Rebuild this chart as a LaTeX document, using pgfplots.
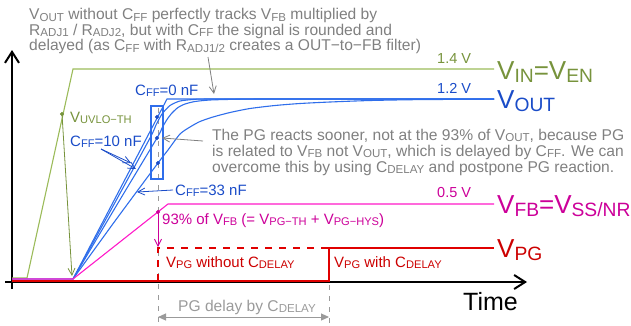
\documentclass[border=0pt]{standalone}
\usepackage{fontspec}
\setmainfont{Liberation Sans}
\usepackage{graphicx}
\usepackage{pgfplots}
\pgfplotsset{compat=1.18}
\usetikzlibrary{arrows.meta}

\definecolor{txtgray}{HTML}{808080}
\definecolor{lgray}{HTML}{9A9A9A}
\definecolor{gline}{HTML}{9BBB59}
\definecolor{gtext}{HTML}{77933C}
\definecolor{bline}{HTML}{2F6EEB}
\definecolor{btext}{HTML}{1A4CC8}
\definecolor{mline}{HTML}{FF19C8}
\definecolor{mtext}{HTML}{CC0099}
\definecolor{rline}{HTML}{E00000}
\definecolor{rtext}{HTML}{CC0000}

% subscript as in the drawing: smaller and a little lowered
\newcommand{\sub}[1]{\raisebox{-0.12em}{\scalebox{0.74}{#1}}}

\tikzset{
  txt/.style={inner sep=0pt, anchor=base west, font=\fontsize{15.6}{17}\selectfont},
  big/.style={inner sep=0pt, anchor=base west, font=\fontsize{26}{28}\selectfont},
  barb/.style={-{Straight Barb[length=7pt,width=7pt]}},
}

\begin{document}
\begin{tikzpicture}
\begin{axis}[
    scale only axis,
    width=631pt, height=325pt,
    xmin=0, xmax=631, ymin=0, ymax=325,
    y dir=reverse,
    hide axis,
    clip=false,
]
% axes
\draw[line width=2pt, -{Straight Barb[length=11pt,width=14pt]}] (12,289) -- (12,50);
\draw[line width=2pt, -{Straight Barb[length=11pt,width=14pt]}] (5,282) -- (527,282);
\node[inner sep=0pt, anchor=base west, font=\fontsize{25}{27}\selectfont] at (463,310) {Time};

% guide lines
\draw[lgray, line width=0.8pt, dash pattern=on 5pt off 6pt] (158,108) -- (158,325);
\draw[lgray, line width=0.8pt, dash pattern=on 5pt off 6pt] (329,285) -- (329,325);

% V_PG
\addplot[rline, line width=1.1pt] coordinates {(12,281) (329,281) (329,248) (494,248)};
\addplot[rline, line width=1.1pt, dash pattern=on 7pt off 7pt] coordinates {(158,281) (158,248) (329,248)};

% V_IN = V_EN
\addplot[gline, line width=1.1pt] coordinates {(12,278) (27,278) (73,69) (494,69)};
\addplot[only marks, mark=*, mark size=1.8pt, gtext] coordinates {(62,114)};
\draw[gtext, line width=0.8pt, barb] (62,114) -- (72,276);

% V_OUT curves
\addplot[bline, line width=1.1pt] coordinates {(12,279) (73,279) (167,99) (494,99)};
\addplot[bline, line width=1.1pt, smooth, tension=0.4] coordinates {(73,279) (112,208) (150,138) (156,125) (162,114) (170,105.5) (180,101) (195,99.4) (220,99) (494,99)};
\addplot[bline, line width=1.1pt, smooth, tension=0.4] coordinates {(73,279) (115,208) (157,138) (162,128) (167,119.5) (172,113) (178,107.5) (185,104) (195,101.5) (210,100) (235,99.3) (270,99) (494,99)};
\addplot[bline, line width=1.1pt, smooth, tension=0.4] coordinates {(73,279) (115,221) (158,163) (168,150) (180,134) (190,127) (200,121.5) (213,117) (230,112.5) (250,108.5) (275,105.5) (300,103.5) (330,102) (370,100.5) (420,99.6) (494,99.2)};
\addplot[only marks, mark=*, mark size=1.8pt, btext] coordinates {(157,117) (157,138) (158,163)};
\draw[bline, line width=1.1pt] (151,106) rectangle (163,179);

% V_FB
\addplot[mline, line width=1.1pt] coordinates {(12,279) (73,279) (168,204) (494,204)};
\addplot[only marks, mark=*, mark size=1.8pt, mtext] coordinates {(158,212)};
\draw[mtext, line width=0.8pt, barb] (158,212) -- (158,247);

% value labels
\node[txt, gtext, font=\fontsize{14.5}{16}\selectfont] at (437,63) {1.4 V};
\node[txt, btext, font=\fontsize{14.5}{16}\selectfont] at (437,93) {1.2 V};
\node[txt, mtext, font=\fontsize{14.5}{16}\selectfont] at (437,197) {0.5 V};

% signal names
\node[big, gtext] at (497,79) {V\sub{IN}=V\sub{EN}};
\node[big, btext] at (497,108) {V\sub{OUT}};
\node[big, mtext] at (497,213) {V\sub{FB}=V\sub{SS/NR}};
\node[big, rtext] at (497,257) {V\sub{PG}};

% top note
\node[txt, txtgray] at (29,19.5) {V\sub{OUT} without C\sub{FF} perfectly tracks V\sub{FB} multiplied by};
\node[txt, txtgray] at (29,35) {R\sub{ADJ1} / R\sub{ADJ2}, but with C\sub{FF} the signal is rounded and};
\node[txt, txtgray] at (29,50.5) {delayed (as C\sub{FF} with R\sub{ADJ1/2} creates a OUT−to−FB filter)};
\draw[txtgray, line width=0.8pt, barb] (208,57) -- (214,94);

% PG note
\node[txt, txtgray] at (212,140) {The PG reacts sooner, not at the 93\% of V\sub{OUT}, because PG};
\node[txt, txtgray] at (212,156) {is related to V\sub{FB} not V\sub{OUT}, which is delayed by C\sub{FF}. We can};
\node[txt, txtgray] at (212,172) {overcome this by using C\sub{DELAY} and postpone PG reaction.};
\draw[txtgray, line width=0.8pt, barb] (203,141) -- (162,138);

% C_FF labels
\node[txt, btext, font=\fontsize{15}{16}\selectfont] at (135,95) {C\sub{FF}=0 nF};
\node[txt, btext, font=\fontsize{15}{16}\selectfont] at (70,146) {C\sub{FF}=10 nF};
\node[txt, btext, font=\fontsize{15}{16}\selectfont] at (175,195) {C\sub{FF}=33 nF};
\node[txt, gtext, font=\fontsize{15}{16}\selectfont] at (70,122) {V\sub{UVLO−TH}};
\draw[btext, line width=0.8pt, barb] (101,149) -- (131,163);
\draw[btext, line width=0.8pt, barb] (101,149) -- (136,169);
\draw[btext, line width=0.8pt, barb] (173,190) -- (137,192);

% PG texts
\node[txt, mtext, font=\fontsize{15}{16}\selectfont] at (162,224) {93\% of V\sub{FB} (= V\sub{PG−TH} + V\sub{PG−HYS})};
\node[txt, rtext, font=\fontsize{15}{16}\selectfont] at (166,267) {V\sub{PG} without C\sub{DELAY}};
\node[txt, rtext, font=\fontsize{15}{16}\selectfont] at (334,267) {V\sub{PG} with C\sub{DELAY}};
\node[txt, lgray, font=\fontsize{15.6}{17}\selectfont] at (178,311) {PG delay by C\sub{DELAY}};
\draw[lgray, line width=1pt, {Triangle[length=8pt,width=7pt]}-{Triangle[length=8pt,width=7pt]}] (158,317) -- (329,317);
\end{axis}
\pgfresetboundingbox
\useasboundingbox (0,0) rectangle (631pt,325pt);
\end{tikzpicture}
\end{document}
